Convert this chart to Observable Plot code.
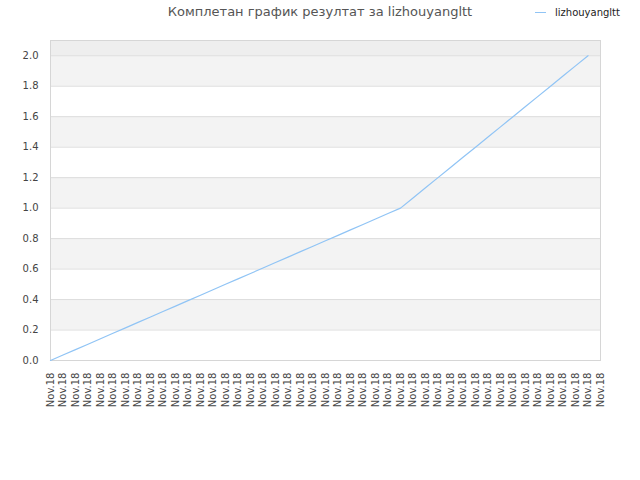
<!DOCTYPE html>
<html>
<head>
<meta charset="utf-8">
<script src="https://cdn.jsdelivr.net/npm/d3@7"></script>
<script src="https://cdn.jsdelivr.net/npm/@observablehq/plot@0.6"></script>
<style>
  body { margin: 0; background: #fff; }
  #wrap { position: relative; width: 640px; height: 480px; font-family: "DejaVu Sans", sans-serif; }
  #title { position: absolute; left: 0; top: 4px; width: 640px; text-align: center; font-size: 13px; color: #555; }
  #legend { position: absolute; left: 535px; top: 7px; font-size: 10px; color: #222; display: flex; align-items: center; }
  #legend .sw { width: 11px; height: 1px; background: #90c4f5; margin-right: 9px; }
  #chart { position: absolute; left: 0; top: 0; }
</style>
</head>
<body>
<div id="wrap">
  <div id="chart"></div>
  <div id="title">Комплетан график резултат за lizhouyangltt</div>
  <div id="legend"><span class="sw"></span><span>lizhouyangltt</span></div>
</div>
<script>
const seriesName = "lizhouyangltt";
const xLabels = ["Nov.18","Nov.18","Nov.18","Nov.18","Nov.18","Nov.18","Nov.18","Nov.18","Nov.18",
  "Nov.18","Nov.18","Nov.18","Nov.18","Nov.18","Nov.18","Nov.18","Nov.18","Nov.18",
  "Nov.18","Nov.18","Nov.18","Nov.18","Nov.18","Nov.18","Nov.18","Nov.18","Nov.18",
  "Nov.18","Nov.18","Nov.18","Nov.18","Nov.18","Nov.18","Nov.18","Nov.18","Nov.18",
  "Nov.18","Nov.18","Nov.18","Nov.18","Nov.18","Nov.18","Nov.18","Nov.18","Nov.18"];
const values = [0, 0.0357, 0.0714, 0.1071, 0.1429, 0.1786, 0.2143, 0.25, 0.2857, 0.3214,
  0.3571, 0.3929, 0.4286, 0.4643, 0.5, 0.5357, 0.5714, 0.6071, 0.6429, 0.6786, 0.7143,
  0.75, 0.7857, 0.8214, 0.8571, 0.8929, 0.9286, 0.9643, 1.0,
  1.0667, 1.1333, 1.2, 1.2667, 1.3333, 1.4, 1.4667, 1.5333, 1.6, 1.6667, 1.7333,
  1.8, 1.8667, 1.9333, 2.0];
const yTicks = [0, 0.2, 0.4, 0.6, 0.8, 1.0, 1.2, 1.4, 1.6, 1.8, 2.0];
const yMax = 2.1;

const xIdx = xLabels.map((_, i) => i);
const points = values.map((v, i) => ({i, v}));
const bands = [];
for (let k = 1; k < yTicks.length - 1; k += 2) bands.push({y1: yTicks[k], y2: yTicks[k + 1], fill: "#f3f3f3"});
bands.push({y1: yTicks[yTicks.length - 1], y2: yMax, fill: "#eeeeee"});

const chart = Plot.plot({
  width: 640,
  height: 480,
  marginLeft: 50,
  marginRight: 40,
  marginTop: 40,
  marginBottom: 120,
  style: {fontFamily: "DejaVu Sans, sans-serif", fontSize: "10px", color: "#444", background: "transparent"},
  x: {type: "linear", domain: [0, xIdx.length - 1]},
  y: {domain: [0, yMax]},
  marks: [
    Plot.rect(bands, {y1: "y1", y2: "y2", fill: "fill"}),
    Plot.ruleY(yTicks, {stroke: "#dddddd", strokeWidth: 1}),
    Plot.frame({stroke: "#d6d6d6"}),
    Plot.line(points, {x: "i", y: "v", stroke: "#90c4f5", strokeWidth: 1.2}),
    Plot.axisY(yTicks, {tickSize: 0, tickPadding: 12, tickFormat: d3.format(".1f"), label: null, fill: "#444"}),
    Plot.axisX(xIdx, {tickSize: 0, tickPadding: 12, tickRotate: -90, tickFormat: i => xLabels[i], label: null, fill: "#444"})
  ]
});
document.getElementById("chart").appendChild(chart);
</script>
</body>
</html>
